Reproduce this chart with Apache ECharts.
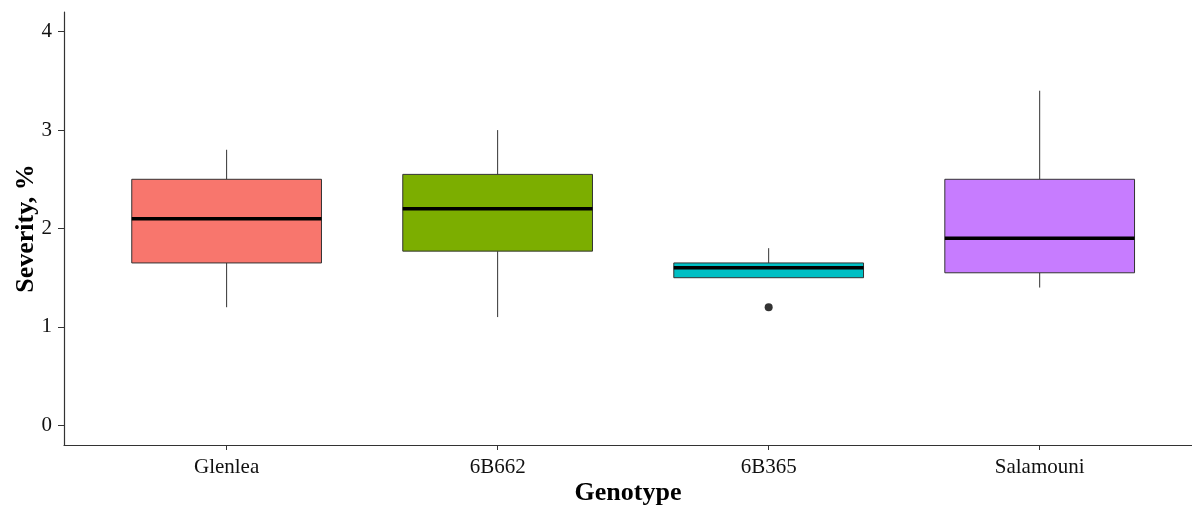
<!DOCTYPE html>
<html>
<head>
<meta charset="utf-8">
<script src="https://cdn.jsdelivr.net/npm/echarts@6/dist/echarts.min.js"></script>
<style>html,body{margin:0;padding:0;background:#fff}#c{width:1192px;height:506px}</style>
</head>
<body>
<div id="c"></div>
<script>
// Data
var categories = ['Glenlea', '6B662', '6B365', 'Salamouni'];
var whiskerMin = [1.2, 1.1, 1.5, 1.4];
var q1 = [1.65, 1.77, 1.5, 1.55];
var medians = [2.1, 2.2, 1.6, 1.9];
var q3 = [2.5, 2.55, 1.65, 2.5];
var whiskerMax = [2.8, 3.0, 1.8, 3.4];
var outliers = [[3, 1.2]];
var fillColors = ['#F8766D', '#7CAE00', '#00BFC4', '#C77CFF'];
var yTicks = [0, 1, 2, 3, 4];
var xTicks = [1, 2, 3, 4];

var boxData = categories.map(function (c, i) {
  return [i + 1, whiskerMin[i], q1[i], medians[i], q3[i], whiskerMax[i], i];
});

var chart = echarts.init(document.getElementById('c'), null, {renderer: 'canvas'});
var font = '"Liberation Serif", "Times New Roman", serif';

chart.setOption({
  animation: false,
  backgroundColor: '#ffffff',
  grid: {left: 64, right: 0, top: 12, bottom: 61, containLabel: false, outerBoundsMode: 'none'},
  xAxis: {
    type: 'value',
    min: 0.4,
    max: 4.562,
    name: 'Genotype',
    nameLocation: 'middle',
    nameGap: 35,
    nameMoveOverlap: false,
    nameTextStyle: {fontFamily: font, fontSize: 26, fontWeight: 'bold', color: '#000'},
    axisLine: {show: true, onZero: false, lineStyle: {color: '#333', width: 1.2}},
    axisTick: {show: true, length: 5, customValues: xTicks, lineStyle: {color: '#333', width: 1}},
    axisLabel: {
      customValues: xTicks, margin: 12,
      fontFamily: font, fontSize: 21, color: '#111',
      formatter: function (v) { return categories[Math.round(v) - 1] || ''; }
    },
    splitLine: {show: false}
  },
  yAxis: {
    type: 'value',
    min: -0.2,
    max: 4.2,
    name: 'Severity, %',
    nameLocation: 'middle',
    nameGap: 25,
    nameMoveOverlap: false,
    nameRotate: 90,
    nameTextStyle: {fontFamily: font, fontSize: 26, fontWeight: 'bold', color: '#000'},
    axisLine: {show: true, onZero: false, lineStyle: {color: '#333', width: 1.2}},
    axisTick: {show: true, length: 6, customValues: yTicks, lineStyle: {color: '#333', width: 1}},
    axisLabel: {customValues: yTicks, margin: 12, fontFamily: font, fontSize: 21, color: '#111'},
    splitLine: {show: false}
  },
  series: [
    {
      type: 'custom',
      data: boxData,
      encode: {x: 0, y: [1, 2, 3, 4, 5]},
      renderItem: function (params, api) {
        var x = api.value(0);
        var idx = api.value(6);
        var half = api.size([0.7, 0])[0] / 2;
        var pMin = api.coord([x, api.value(1)]);
        var pQ1 = api.coord([x, api.value(2)]);
        var pMed = api.coord([x, api.value(3)]);
        var pQ3 = api.coord([x, api.value(4)]);
        var pMax = api.coord([x, api.value(5)]);
        var lineStyle = {stroke: '#333', lineWidth: 1};
        return {
          type: 'group',
          children: [
            {type: 'line', shape: {x1: pMax[0], y1: pMax[1], x2: pQ3[0], y2: pQ3[1]}, style: lineStyle},
            {type: 'line', shape: {x1: pMin[0], y1: pMin[1], x2: pQ1[0], y2: pQ1[1]}, style: lineStyle},
            {type: 'rect', shape: {x: pQ3[0] - half, y: pQ3[1], width: half * 2, height: pQ1[1] - pQ3[1]},
              style: {fill: fillColors[idx], stroke: '#333', lineWidth: 1}},
            {type: 'line', shape: {x1: pMed[0] - half, y1: pMed[1], x2: pMed[0] + half, y2: pMed[1]},
              style: {stroke: '#000', lineWidth: 3.5}}
          ]
        };
      }
    },
    {
      type: 'scatter',
      data: outliers,
      symbol: 'circle',
      symbolSize: 8,
      itemStyle: {color: '#000'}
    }
  ]
});
</script>
</body>
</html>
